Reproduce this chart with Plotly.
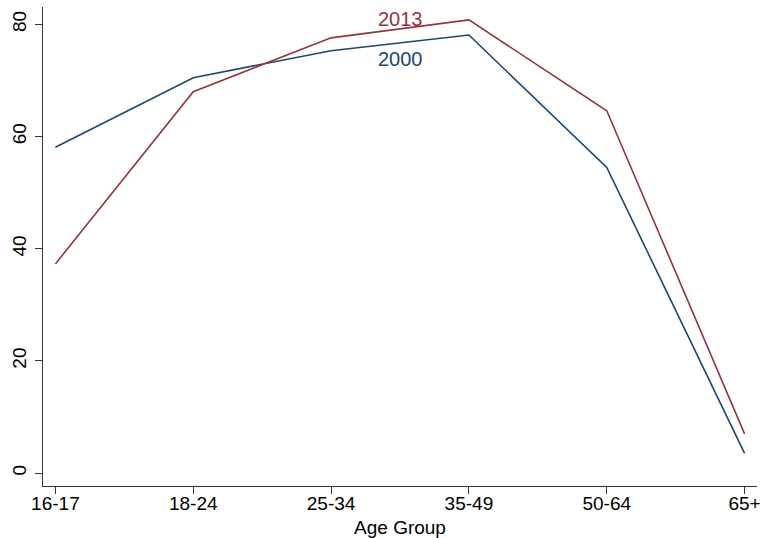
import plotly.graph_objects as go

age_groups = ["16-17", "18-24", "25-34", "35-49", "50-64", "65+"]
y2000 = [58.1, 70.5, 75.3, 78.1, 54.5, 3.5]
y2013 = [37.3, 68.0, 77.6, 80.8, 64.6, 7.0]
y_ticks = [0, 20, 40, 60, 80]

navy = "#1a476f"
maroon = "#90353b"

fig = go.Figure()
fig.add_trace(go.Scatter(x=age_groups, y=y2000, mode="lines",
                         line=dict(color=navy, width=1.6), name="2000"))
fig.add_trace(go.Scatter(x=age_groups, y=y2013, mode="lines",
                         line=dict(color=maroon, width=1.6), name="2013"))

fig.add_annotation(x=2.5, y=80.9, text="2013", showarrow=False,
                   font=dict(size=20, color=maroon), xanchor="center", yanchor="middle")
fig.add_annotation(x=2.5, y=73.8, text="2000", showarrow=False,
                   font=dict(size=20, color=navy), xanchor="center", yanchor="middle")

fig.update_layout(
    width=763, height=538,
    margin=dict(l=43, r=6, t=7, b=52, autoexpand=False),
    paper_bgcolor="white", plot_bgcolor="white",
    showlegend=False,
    font=dict(family="Liberation Sans, Arial, sans-serif", color="black", size=19),
)
fig.update_xaxes(
    type="category", range=[-0.09, 5.09], automargin=False,
    showline=True, linecolor="#333333", linewidth=1.3,
    ticks="outside", ticklen=7, tickcolor="#333333", tickwidth=1.3,
    showgrid=False, zeroline=False,
    tickfont=dict(size=19), ticklabelstandoff=-7,
    title=dict(text="Age Group", font=dict(size=19), standoff=9),
)
fig.update_yaxes(
    range=[-2.3, 83.1], automargin=False,
    tickvals=y_ticks,
    showline=True, linecolor="#333333", linewidth=1.3,
    ticks="outside", ticklen=7, tickcolor="#333333", tickwidth=1.3,
    showgrid=False, zeroline=False,
    tickangle=-90, ticklabelstandoff=1,
    tickfont=dict(size=19),
)

fig.write_html("out.html",
               config={"displayModeBar": False},
               post_script="document.body.style.margin='0px';document.body.style.overflow='hidden';")
